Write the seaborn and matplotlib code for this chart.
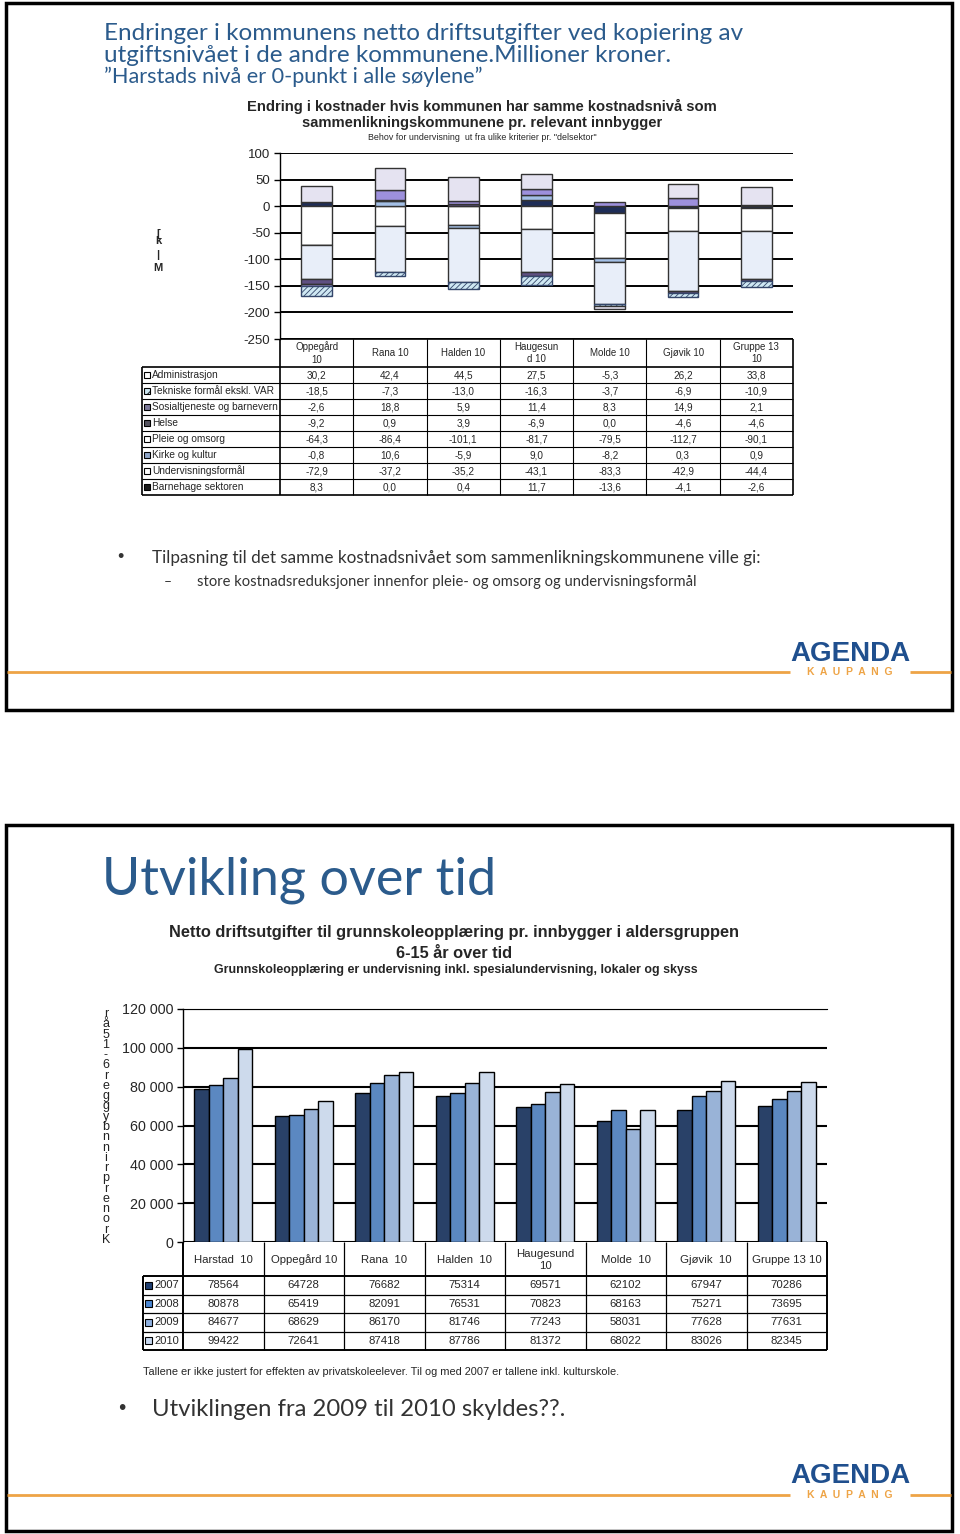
import numpy as np
import pandas as pd
import matplotlib
matplotlib.use("Agg")
import matplotlib.pyplot as plt
import seaborn as sns
from matplotlib.patches import Rectangle

# --- data, chart 1 (mill. kr, endring mot Harstad) ---
cats1 = ["Oppegård\n10", "Rana 10", "Halden 10", "Haugesun\nd 10", "Molde 10", "Gjøvik 10", "Gruppe 13\n10"]
administrasjon = [30.2, 42.4, 44.5, 27.5, -5.3, 26.2, 33.8]
tekniske = [-18.5, -7.3, -13.0, -16.3, -3.7, -6.9, -10.9]
sosial = [-2.6, 18.8, 5.9, 11.4, 8.3, 14.9, 2.1]
helse = [-9.2, 0.9, 3.9, -6.9, 0.0, -4.6, -4.6]
pleie = [-64.3, -86.4, -101.1, -81.7, -79.5, -112.7, -90.1]
kirke = [-0.8, 10.6, -5.9, 9.0, -8.2, 0.3, 0.9]
undervisning = [-72.9, -37.2, -35.2, -43.1, -83.3, -42.9, -44.4]
barnehage = [8.3, 0.0, 0.4, 11.7, -13.6, -4.1, -2.6]

# --- data, chart 2 (kr pr innbygger 6-15 år) ---
cats2 = ["Harstad  10", "Oppegård 10", "Rana  10", "Halden  10", "Haugesund\n10", "Molde  10", "Gjøvik  10", "Gruppe 13 10"]
years = ["2007", "2008", "2009", "2010"]
v2007 = [78564, 64728, 76682, 75314, 69571, 62102, 67947, 70286]
v2008 = [80878, 65419, 82091, 76531, 70823, 68163, 75271, 73695]
v2009 = [84677, 68629, 86170, 81746, 77243, 58031, 77628, 77631]
v2010 = [99422, 72641, 87418, 87786, 81372, 68022, 83026, 82345]

BLUE = "#2b5b8c"
ORANGE = "#eea446"
CAL = ["Lato", "DejaVu Sans"]
NARROW = ["Liberation Sans Narrow", "Liberation Sans", "DejaVu Sans"]

sns.set_theme(style="white")
plt.rcParams['font.family'] = ['Liberation Sans', 'DejaVu Sans']
plt.rcParams['hatch.linewidth'] = 0.6
plt.rcParams['axes.unicode_minus'] = False

fig = plt.figure(figsize=(9.6, 15.34), dpi=100)

# background layer in pixel coordinates
bg = fig.add_axes([0, 0, 1, 1])
bg.set_xlim(0, 960)
bg.set_ylim(1534, 0)
bg.axis('off')


def hline(x0, x1, y, lw=1.0, color='black'):
    bg.plot([x0, x1], [y, y], color=color, lw=lw, solid_capstyle='butt')


def vline(x, y0, y1, lw=1.0, color='black'):
    bg.plot([x, x], [y0, y1], color=color, lw=lw, solid_capstyle='butt')


def logo(y_text, y_line):
    hline(7, 790, y_line, lw=2, color=ORANGE)
    hline(910, 951, y_line, lw=2, color=ORANGE)
    bg.text(850, y_text, "AGENDA", ha='center', va='center', fontsize=20, fontweight='bold',
            color="#1f4f8e", family=NARROW)
    bg.text(850, y_line, "K  A  U  P  A  N  G", ha='center', va='center', fontsize=7.5,
            fontweight='bold', color=ORANGE)


# ---------------- slide 1 ----------------
bg.add_patch(Rectangle((6, 3), 946, 707, fill=False, lw=2.5, ec='black'))
bg.text(104, 34, "Endringer i kommunens netto driftsutgifter ved kopiering av", fontsize=17.5,
        color=BLUE, family=CAL, va='center')
bg.text(104, 56, "utgiftsnivået i de andre kommunene.Millioner kroner.", fontsize=17.5,
        color=BLUE, family=CAL, va='center')
bg.text(104, 77, "”Harstads nivå er 0-punkt i alle søylene”", fontsize=15.6,
        color=BLUE, family=CAL, va='center')

bg.text(482, 106, "Endring i kostnader hvis kommunen har samme kostnadsnivå som", fontsize=10.6,
        fontweight='bold', ha='center', va='center')
bg.text(482, 123, "sammenlikningskommunene pr. relevant innbygger", fontsize=10.6,
        fontweight='bold', ha='center', va='center')
bg.text(482, 138, 'Behov for undervisning  ut fra ulike kriterier pr. "delsektor"', fontsize=6.4,
        ha='center', va='center')

# garbled axis label
for ch, yy in zip(["[", "k", "|", "M"], [234, 241, 255, 268]):
    bg.text(158, yy, ch, fontsize=8, fontweight='bold', ha='center', va='center')

ax1 = fig.add_axes([280 / 960, 1 - 339 / 1534, 513 / 960, 186 / 1534])
stack = [
    (barnehage, "#1e2d57", None),
    (undervisning, "#ffffff", None),
    (kirke, "#a3bfe6", None),
    (pleie, "#e8eef9", None),
    (helse, "#5f5082", None),
    (sosial, "#9d90dc", None),
    (tekniske, "#cfe8f3", "//////"),
    (administrasjon, "#e5e3f1", None),
]
x1 = np.arange(len(cats1))
pos = np.zeros(len(cats1))
neg = np.zeros(len(cats1))
for vals, col, hat in stack:
    v = np.array(vals)
    base = np.where(v >= 0, pos, neg)
    m = v != 0
    ax1.bar(x1[m], v[m], bottom=base[m], width=0.42, color=col, edgecolor="#34466a" if hat else "#333333",
            linewidth=1.0, hatch=hat, zorder=3)
    pos += np.clip(v, 0, None)
    neg += np.clip(v, None, 0)

ax1.set_xlim(-0.5, len(cats1) - 0.5)
ax1.set_ylim(-250, 100)
ax1.set_yticks(range(-250, 101, 50))
ax1.set_xticks([])
ax1.yaxis.grid(True, color='black', lw=1.4)
ax1.set_axisbelow(True)
for s in ['top', 'right', 'bottom']:
    ax1.spines[s].set_visible(False)
ax1.spines['left'].set_color('black')
ax1.spines['left'].set_linewidth(1.0)
ax1.tick_params(axis='y', labelsize=9.5, length=4, width=1, color='black', left=True, pad=3)
ax1.patch.set_alpha(0)

# table 1
rows1 = [("Administrasjon", administrasjon, "#ffffff", None),
         ("Tekniske formål ekskl. VAR", tekniske, "#cfe8f3", "////"),
         ("Sosialtjeneste og barnevern", sosial, "#7d7a9a", None),
         ("Helse", helse, "#55535f", None),
         ("Pleie og omsorg", pleie, "#ffffff", None),
         ("Kirke og kultur", kirke, "#8fa6c8", None),
         ("Undervisningsformål", undervisning, "#ffffff", None),
         ("Barnehage sektoren", barnehage, "#1a1a1a", None)]
tx0, tx1, tl = 280, 793, 142
cw = (tx1 - tx0) / len(cats1)
ytop, yh, rh = 339, 367, 16
ybot = yh + rh * len(rows1)
hline(tx0, tx1, ytop, lw=1.2)
for i in range(len(rows1) + 1):
    hline(tl, tx1, yh + rh * i, lw=1.2 if i in (0, len(rows1)) else 0.8)
vline(tl, yh, ybot, lw=1.2)
for k in range(len(cats1) + 1):
    vline(tx0 + k * cw, ytop, ybot, lw=1.2 if k in (0, len(cats1)) else 0.8)
for k, c in enumerate(cats1):
    bg.text(tx0 + (k + 0.5) * cw, (ytop + yh) / 2, c, fontsize=7, ha='center', va='center',
            linespacing=1.3, family=NARROW)
for i, (name, vals, col, hat) in enumerate(rows1):
    yc = yh + rh * (i + 0.5)
    bg.add_patch(Rectangle((144, yc - 3), 6, 6, fc=col, ec='black', lw=0.8, hatch=hat))
    bg.text(152, yc, name, fontsize=7.3, va='center', family=NARROW)
    for k, v in enumerate(vals):
        bg.text(tx0 + (k + 0.5) * cw, yc, f"{v:.1f}".replace('.', ','), fontsize=7.2,
                ha='center', va='center', family=NARROW)

# bullets slide 1
bg.text(120, 558, "•", fontsize=13, va='center', ha='center', color='#333333')
bg.text(152, 558, "Tilpasning til det samme kostnadsnivået som sammenlikningskommunene ville gi:",
        fontsize=12.35, va='center', color='#333333', family=CAL)
bg.text(168, 582, "–", fontsize=10, va='center', ha='center', color='#333333', family=CAL)
bg.text(197, 582, "store kostnadsreduksjoner innenfor pleie- og omsorg og undervisningsformål",
        fontsize=10.6, va='center', color='#333333', family=CAL)
logo(654, 672)

# ---------------- slide 2 ----------------
bg.add_patch(Rectangle((6, 825), 946, 706, fill=False, lw=2.5, ec='black'))
bg.text(102, 880, "Utvikling over tid", fontsize=37.5, color=BLUE, family=CAL, va='center')

bg.text(454, 933, "Netto driftsutgifter til grunnskoleopplæring pr. innbygger i aldersgruppen",
        fontsize=11.8, fontweight='bold', ha='center', va='center')
bg.text(454, 953, "6-15 år over tid", fontsize=11.8, fontweight='bold', ha='center', va='center')
bg.text(456, 970, "Grunnskoleopplæring er undervisning inkl. spesialundervisning, lokaler og skyss",
        fontsize=8.9, fontweight='bold', ha='center', va='center')

# garbled vertical y label
lab = [c for c in "Kroner pr innbygger 6-15 år"[::-1] if c != " "]
for j, ch in enumerate(lab):
    bg.text(106, 1014 + j * (1240 - 1014) / (len(lab) - 1), ch, fontsize=9, ha='center',
            va='center', color='#222222')

df2 = pd.DataFrame({
    "kommune": cats2 * 4,
    "aar": sum([[y] * len(cats2) for y in years], []),
    "verdi": v2007 + v2008 + v2009 + v2010,
})
pal2 = ["#1f3f72", "#4a86d2", "#8fb1e1", "#c8d9f1"]

ax2 = fig.add_axes([183 / 960, 1 - 1242 / 1534, 644 / 960, 233 / 1534])
sns.barplot(data=df2, x="kommune", y="verdi", hue="aar", order=cats2, hue_order=years,
            palette=pal2, edgecolor='black', linewidth=1.0, width=0.72, errorbar=None,
            legend=False, ax=ax2, zorder=3)
ax2.set_xlim(-0.5, len(cats2) - 0.5)
ax2.set_ylim(0, 120000)
ax2.set_yticks(range(0, 120001, 20000))
ax2.set_yticklabels([f"{t:,}".replace(",", " ") for t in range(0, 120001, 20000)])
ax2.set_xticks([])
ax2.set_xlabel("")
ax2.set_ylabel("")
ax2.yaxis.grid(True, color='black', lw=1.5)
ax2.set_axisbelow(True)
for s in ['right', 'bottom']:
    ax2.spines[s].set_visible(False)
ax2.spines['top'].set_color('black')
ax2.spines['top'].set_linewidth(0.8)
ax2.spines['left'].set_color('black')
ax2.spines['left'].set_linewidth(1.0)
ax2.tick_params(axis='y', labelsize=10.3, length=4, width=1, color='black', left=True, pad=3)
ax2.patch.set_alpha(0)

# table 2
rows2 = [("2007", v2007, "#1f3f72"), ("2008", v2008, "#4a86d2"),
         ("2009", v2009, "#8fb1e1"), ("2010", v2010, "#c8d9f1")]
ux0, ux1, ul = 183, 827, 143
uw = (ux1 - ux0) / len(cats2)
utop, uh, urh = 1242, 1276, 18.5
ubot = uh + urh * len(rows2)
for i in range(len(rows2) + 1):
    hline(ul, ux1, uh + urh * i, lw=1.4 if i in (0, len(rows2)) else 0.9)
vline(ul, uh, ubot, lw=1.4)
for k in range(len(cats2) + 1):
    vline(ux0 + k * uw, utop, ubot, lw=1.4 if k in (0, len(cats2)) else 0.9)
for k, c in enumerate(cats2):
    bg.text(ux0 + (k + 0.5) * uw, (utop + uh) / 2 + 1, c, fontsize=8.2, ha='center', va='center',
            linespacing=1.3)
for i, (yr, vals, col) in enumerate(rows2):
    yc = uh + urh * (i + 0.5)
    bg.add_patch(Rectangle((145, yc - 3.5), 7, 7, fc=col, ec='black', lw=0.8))
    bg.text(154, yc, yr, fontsize=8, va='center')
    for k, v in enumerate(vals):
        bg.text(ux0 + (k + 0.5) * uw, yc, str(v), fontsize=8.2, ha='center', va='center')

bg.text(143, 1372, "Tallene er ikke justert for effekten av privatskoleelever. Til og med 2007 er tallene inkl. kulturskole.",
        fontsize=7.9, va='center')

bg.text(122, 1409, "•", fontsize=15, va='center', ha='center', color='#333333')
bg.text(152, 1409, "Utviklingen fra 2009 til 2010 skyldes??.", fontsize=17.2, va='center',
        color='#333333', family=CAL)
logo(1476, 1495)

fig.savefig("out.png", dpi=100)
